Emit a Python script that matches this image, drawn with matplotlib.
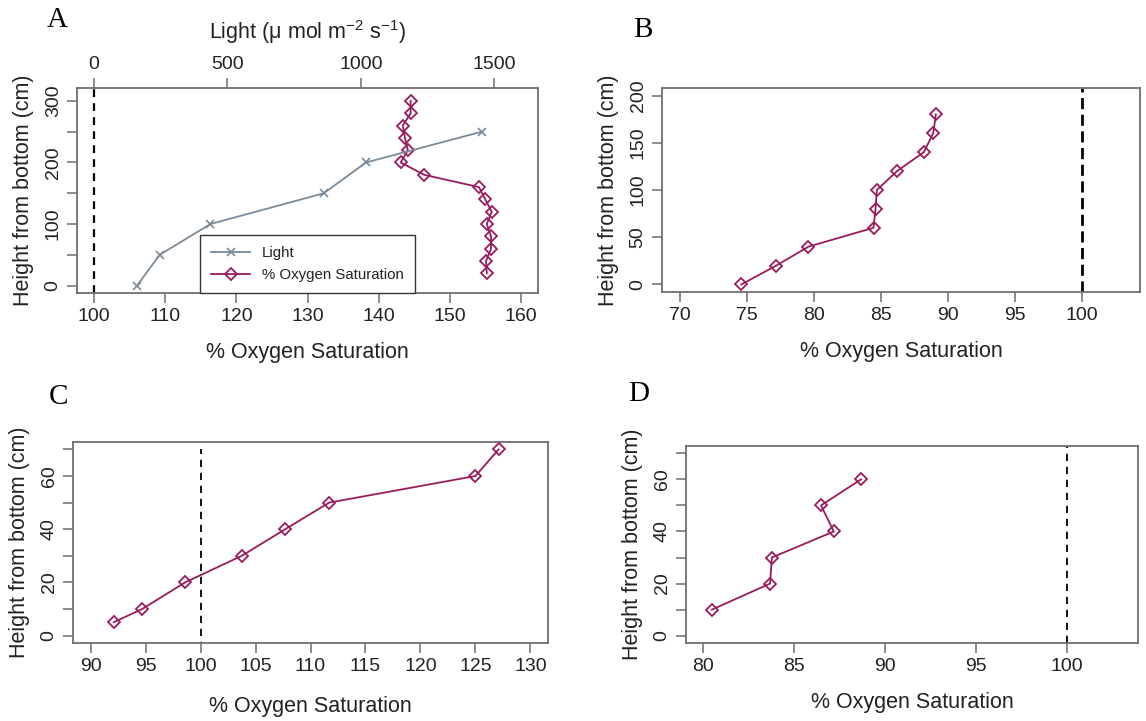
import matplotlib
matplotlib.use("Agg")
import matplotlib.pyplot as plt
import numpy as np

plt.rcParams['font.family'] = ['Liberation Sans', 'DejaVu Sans']
plt.rcParams['mathtext.default'] = 'regular'

# panel A
a_height = [300, 280, 260, 240, 220, 200, 180, 160, 140, 120, 100, 80, 60, 40, 20]
a_oxygen = [144.5, 144.5, 143.4, 143.7, 144.1, 143.1, 146.4, 154.1, 155.0, 155.9, 155.2, 155.8, 155.8, 155.1, 155.2]
light_height = [0, 50, 100, 150, 200, 250]
light_value = [161, 246, 436, 861, 1019, 1453]

# panel B
b_height = [0, 20, 40, 60, 80, 100, 120, 140, 160, 180]
b_oxygen = [74.6, 77.2, 79.6, 84.45, 84.6, 84.7, 86.2, 88.2, 88.9, 89.1]

# panel C
c_height = [5, 10, 20, 30, 40, 50, 60, 70]
c_oxygen = [92.1, 94.7, 98.6, 103.75, 107.7, 111.7, 125.0, 127.1]

# panel D
d_height = [10, 20, 30, 40, 50, 60]
d_oxygen = [80.5, 83.7, 83.8, 87.2, 86.5, 88.7]

oxy_col = '#9a1b5c'
light_col = '#7b8a99'
frame_col = '#6e6e6e'
txt_col = '#222222'
W, H = 1146, 721

fig = plt.figure(figsize=(W / 100, H / 100), dpi=100)


def make_ax(l, r, t, b):
    return fig.add_axes([l / W, 1 - b / H, (r - l) / W, (b - t) / H])


def style(ax, xlim, ylim, xticks, yticks, ylabels, xpad=12):
    ax.set_xlim(*xlim)
    ax.set_ylim(*ylim)
    ax.set_xticks(xticks)
    ax.set_yticks(yticks)
    ax.set_yticklabels(ylabels, rotation=90, va='center')
    for s in ax.spines.values():
        s.set_color(frame_col)
        s.set_linewidth(1.3)
    ax.tick_params(direction='out', length=7, width=1.1, color=frame_col,
                   labelsize=14, labelcolor=txt_col, pad=4)
    ax.set_xlabel('% Oxygen Saturation', fontsize=15.5, color=txt_col, labelpad=xpad)
    ax.set_ylabel('Height from bottom (cm)', fontsize=15.5, color=txt_col, labelpad=8)


def oxy_line(ax, x, y):
    ax.plot(x, y, color=oxy_col, lw=1.3, marker='D', ms=6, mfc='none',
            mec=oxy_col, mew=1.3, label='% Oxygen Saturation', zorder=3)


# A
axA = make_ax(77, 538, 88, 293)
style(axA, (97.6, 162.4), (-12, 321), np.arange(100, 161, 10),
      np.arange(0, 301, 50), ['0', '', '100', '', '200', '', '300'])
axA.axvline(100, color='black', lw=1.6, dashes=(3.5, 2.8))
top = axA.twiny()
top.set_xlim((97.6 - 100) * 1600 / 60, (162.4 - 100) * 1600 / 60)
top.set_xticks([0, 500, 1000, 1500])
top.tick_params(direction='out', length=7, width=1.1, color=frame_col,
                labelsize=14, labelcolor=txt_col, pad=4)
for s in top.spines.values():
    s.set_visible(False)
top.set_xlabel('Light (μ mol m$^{-2}$ s$^{-1}$)', fontsize=15.5, color=txt_col, labelpad=12)
lh, = top.plot(light_value, light_height, color=light_col, lw=1.3, marker='x',
               ms=6, mew=1.2, label='Light')
oxy_line(axA, a_oxygen, a_height)
oh = axA.get_lines()[-1]
leg = axA.legend([lh, oh], ['Light', '% Oxygen Saturation'], loc='lower center',
                 bbox_to_anchor=(0.5, 0.0), borderaxespad=0, fontsize=10.8,
                 fancybox=False, edgecolor='#333333', framealpha=1,
                 handlelength=2.6, labelspacing=0.5, borderpad=0.75,
                 labelcolor=txt_col)
leg.get_frame().set_linewidth(1.0)
leg.set_zorder(5)

# B
axB = make_ax(662, 1140, 88, 292)
style(axB, (68.68, 104.32), (-8, 208), np.arange(70, 101, 5),
      np.arange(0, 201, 50), [str(v) for v in range(0, 201, 50)])
axB.axvline(100, color='black', lw=2.0, dashes=(4, 2))
oxy_line(axB, b_oxygen, b_height)

# C
axC = make_ax(73, 548, 442, 643)
style(axC, (88.4, 131.6), (-2.8, 72.8), np.arange(90, 131, 5),
      np.arange(0, 71, 10), ['0', '', '20', '', '40', '', '60', ''], xpad=15)
axC.plot([100, 100], [-5, 70], color='black', lw=1.3, dashes=(4, 3.2))
oxy_line(axC, c_oxygen, c_height)

# D
axD = make_ax(686, 1138, 446, 643)
style(axD, (79.08, 103.92), (-2.8, 72.8), np.arange(80, 101, 5),
      np.arange(0, 71, 10), ['0', '', '20', '', '40', '', '60', ''])
axD.axvline(100, color='black', lw=1.3, dashes=(4, 3.2))
oxy_line(axD, d_oxygen, d_height)

# panel letters
for lab, x, y in [('A', 57, 20), ('B', 643, 30), ('C', 59, 397), ('D', 639, 394)]:
    fig.text(x / W, 1 - y / H, lab, fontsize=21, family='Liberation Serif',
             ha='center', va='center', color='black')

fig.savefig('out.png', dpi=100)
